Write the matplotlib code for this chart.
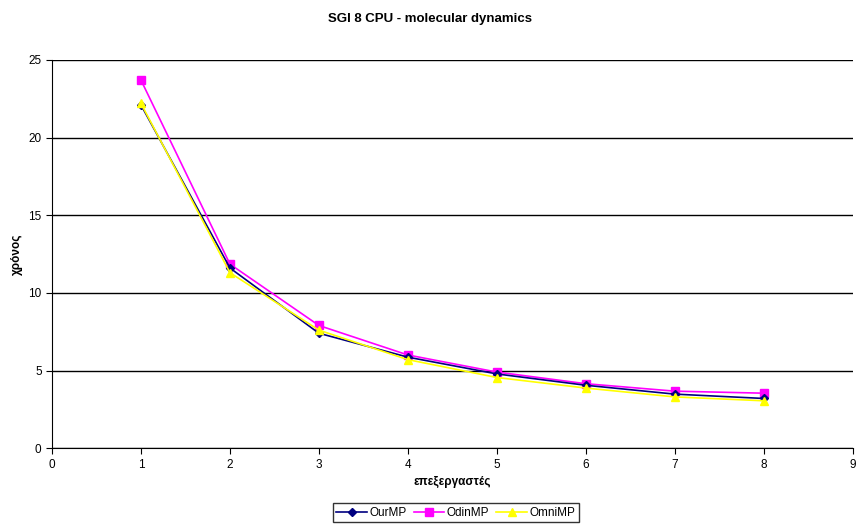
import matplotlib
matplotlib.use("Agg")
import matplotlib.pyplot as plt

plt.rcParams['font.family'] = ['Liberation Sans', 'DejaVu Sans']

procs = [1, 2, 3, 4, 5, 6, 7, 8]
ourmp = [22.1, 11.6, 7.4, 5.86, 4.78, 4.05, 3.48, 3.2]
odinmp = [23.7, 11.85, 7.9, 6.0, 4.9, 4.15, 3.67, 3.54]
omnimp = [22.2, 11.3, 7.6, 5.7, 4.55, 3.87, 3.3, 3.05]

fig = plt.figure(figsize=(8.6, 5.26), dpi=100)
ax = fig.add_axes([0.0605, 0.148, 0.931, 0.738])

ax.plot(procs, ourmp, color='#000080', marker='D', markersize=4, linewidth=1.2, label='OurMP', zorder=3)
ax.plot(procs, odinmp, color='#FF00FF', marker='s', markersize=6, linewidth=1.2, label='OdinMP', zorder=2)
ax.plot(procs, omnimp, color='#FFFF00', marker='^', markersize=6, linewidth=1.2, label='OmniMP', zorder=4)

ax.set_xlim(0, 9)
ax.set_ylim(0, 25)
ax.set_xticks(range(0, 10))
ax.set_yticks(range(0, 26, 5))
ax.yaxis.grid(True, color='black', linewidth=1)
ax.set_axisbelow(True)
for s in ['top', 'right']:
    ax.spines[s].set_visible(False)
ax.tick_params(labelsize=8.5, length=4, direction='out')

ax.set_xlabel('επεξεργαστές', fontsize=8.5, fontweight='bold')
ax.set_ylabel('χρόνος', fontsize=8.5, fontweight='bold')
fig.suptitle('SGI 8 CPU - molecular dynamics', fontsize=9.5, fontweight='bold', y=0.975)

leg = fig.legend(loc='lower center', bbox_to_anchor=(0.53, -0.004), ncol=3, fontsize=8.5,
                 frameon=True, fancybox=False, edgecolor='black', handlelength=2.6,
                 borderpad=0.3, columnspacing=0.6, handletextpad=0.2)
leg.get_frame().set_linewidth(1)

fig.savefig('out.png', dpi=100)
